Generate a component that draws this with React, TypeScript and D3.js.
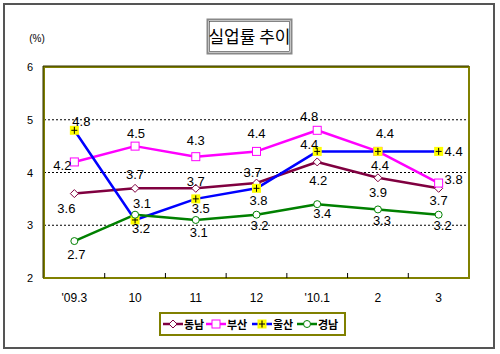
import React from 'react';
import * as d3 from 'd3';

// 데이터
const categories = ["'09.3", '10', '11', '12', "'10.1", '2', '3'];
const dongnam = [3.6, 3.7, 3.7, 3.8, 4.2, 3.9, 3.7];
const busan = [4.2, 4.5, 4.3, 4.4, 4.8, 4.4, 3.8];
const ulsan = [4.8, 3.1, 3.5, 3.7, 4.4, 4.4, 4.4];
const gyeongnam = [2.7, 3.2, 3.1, 3.2, 3.4, 3.3, 3.2];
const yTicks = [2, 3, 4, 5, 6];

// 데이터 레이블 위치 조정 (점 기준 dx, dy)
const nudgeDongnam = [[-8, 14], [0, -14], [0, -7], [2, 17], [1, 18], [0, 14], [0, 12]];
const nudgeBusan = [[-12, 3], [1, -13], [0, -17], [0, -18], [-8, -14], [7, -18], [15, -4]];
const nudgeUlsan = [[7, -9], [7, -17], [5, 9], [-4, -16], [-8, -7], [2, 14], [15, 0]];
const nudgeGyeongnam = [[2, 13], [6, 13], [3, 12], [3, 10], [5, 9], [4, 11], [4, 10]];

type Marker = 'diamond' | 'square' | 'plus' | 'circle';
interface Series { name: string; values: number[]; color: string; marker: Marker; nudge: number[][] }

const series: Series[] = [
  {name: '동남', values: dongnam, color: '#800040', marker: 'diamond', nudge: nudgeDongnam},
  {name: '부산', values: busan, color: '#ff00ff', marker: 'square', nudge: nudgeBusan},
  {name: '울산', values: ulsan, color: '#0000ff', marker: 'plus', nudge: nudgeUlsan},
  {name: '경남', values: gyeongnam, color: '#008000', marker: 'circle', nudge: nudgeGyeongnam},
];

const W = 500, H = 354;
const plot = {left: 44, top: 67, right: 469, bottom: 278};
const numFont = '"Liberation Sans", Arial, sans-serif';
const krFont = '"Noto Sans CJK KR", sans-serif';

function MarkerShape({type, x, y, color}: {type: Marker; x: number; y: number; color: string}) {
  if (type === 'diamond') {
    const r = 4;
    return <path d={`M${x},${y - r}L${x + r},${y}L${x},${y + r}L${x - r},${y}Z`} fill="#fff" stroke={color} strokeWidth={1} />;
  }
  if (type === 'square') {
    return <rect x={x - 4} y={y - 4} width={8} height={8} fill="#fff" stroke={color} strokeWidth={1} />;
  }
  if (type === 'plus') {
    return (
      <g>
        <rect x={x - 4.5} y={y - 4.5} width={9} height={9} fill="#ffff00" />
        <path d={`M${x - 3},${y}H${x + 3}M${x},${y - 3.5}V${y + 3.5}`} stroke="#000" strokeWidth={1} />
      </g>
    );
  }
  return <circle cx={x} cy={y} r={3.5} fill="#fff" stroke={color} strokeWidth={1} />;
}

export default function App() {
  const x = d3.scaleBand<string>().domain(categories).range([plot.left, plot.right]).padding(0);
  const y = d3.scaleLinear().domain([2, 6]).range([plot.bottom, plot.top]);
  const cx = (c: string) => (x(c) ?? 0) + x.bandwidth() / 2;
  const line = d3.line<number>().x((_, i) => cx(categories[i])).y(d => y(d));

  const legendX = 160, legendY = 313;
  const itemW = [0, 43, 89, 134];

  return (
    <svg width={W} height={H} style={{position: 'absolute', left: 0, top: 0, background: '#fff'}}>
      {/* 바깥 테두리 */}
      <rect x={4} y={4} width={490} height={344} fill="#fff" stroke="#555" strokeWidth={2} />

      {/* 제목 */}
      <rect x={207.5} y={19.5} width={84} height={34} fill="#fff" stroke="#888" strokeWidth={2} />
      <rect x={209.5} y={21.5} width={80} height={30} fill="none" stroke="#333" strokeWidth={0.6} />
      <text x={249.5} y={42.5} textAnchor="middle" fontFamily={krFont} fontSize={17} fill="#000">실업률 추이</text>

      <text x={37} y={42} textAnchor="middle" fontFamily={numFont} fontSize={10} fill="#000">(%)</text>

      {/* 격자선 */}
      {yTicks.filter(t => t > 2 && t < 6).map(t => (
        <line key={t} x1={plot.left} x2={plot.right} y1={y(t)} y2={y(t)} stroke="#000" strokeWidth={1} strokeDasharray="2,2" />
      ))}

      {/* 플롯 테두리 */}
      <rect x={plot.left} y={plot.top} width={plot.right - plot.left} height={plot.bottom - plot.top} fill="none" stroke="#808000" strokeWidth={2} />
      <path d={`M${plot.left - 1},${plot.bottom}V${plot.top - 1}H${plot.right}`} fill="none" stroke="#333300" strokeWidth={1} />

      {/* x축 눈금 */}
      {categories.slice(1).map(c => (
        <line key={c} x1={x(c)} x2={x(c)} y1={plot.bottom} y2={plot.bottom - 5} stroke="#000" strokeWidth={1} />
      ))}

      {/* y축 레이블 */}
      {yTicks.map(t => (
        <text key={t} x={33} y={y(t) + 4} textAnchor="end" fontFamily={numFont} fontSize={11} fill="#000">{t}</text>
      ))}

      {/* x축 레이블 */}
      {categories.map(c => (
        <text key={c} x={cx(c)} y={302} textAnchor="middle" fontFamily={numFont} fontSize={12} fill="#000">{c}</text>
      ))}

      {/* 선 */}
      {series.map(s => (
        <path key={s.name} d={line(s.values) ?? ''} fill="none" stroke={s.color} strokeWidth={2.5} strokeLinejoin="round" />
      ))}

      {/* 마커 */}
      {series.map(s => s.values.map((v, i) => (
        <MarkerShape key={s.name + i} type={s.marker} x={cx(categories[i])} y={y(v)} color={s.color} />
      )))}

      {/* 데이터 레이블 */}
      {series.map(s => s.values.map((v, i) => (
        <text key={'l' + s.name + i} x={cx(categories[i]) + s.nudge[i][0]} y={y(v) + s.nudge[i][1] + 5}
              textAnchor="middle" fontFamily={numFont} fontSize={13} fill="#000">{v.toFixed(1)}</text>
      )))}

      {/* 범례 */}
      <rect x={legendX} y={legendY} width={185} height={22} fill="#fff" stroke="#808000" strokeWidth={2} />
      {series.map((s, k) => {
        const lx = legendX + 3 + itemW[k];
        const ly = legendY + 11;
        return (
          <g key={'lg' + s.name}>
            <line x1={lx} x2={lx + 20} y1={ly} y2={ly} stroke={s.color} strokeWidth={2.5} />
            <MarkerShape type={s.marker} x={lx + 10} y={ly} color={s.color} />
            <text x={lx + 21} y={ly + 4.5} fontFamily={krFont} fontSize={11} fontWeight="bold" fill="#000">{s.name}</text>
          </g>
        );
      })}
    </svg>
  );
}
